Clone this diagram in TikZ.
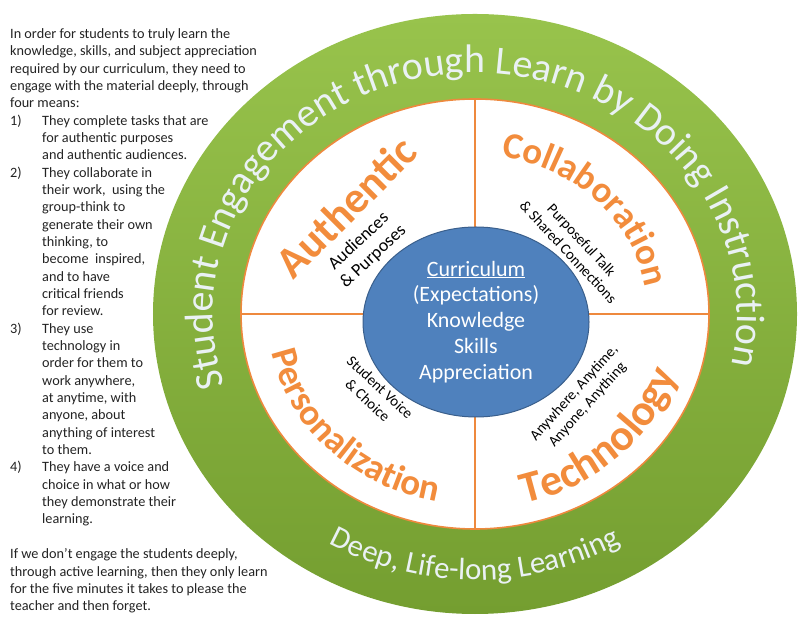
\documentclass[tikz,border=0pt]{standalone}
\usepackage{fontspec}
\setmainfont{Carlito}
\usepackage{xcolor}
\usepackage{tikz}
\usetikzlibrary{calc}
\usetikzlibrary{shapes.geometric}
\usetikzlibrary{decorations.text}
\definecolor{ringgreen}{RGB}{152,195,76}
\definecolor{ringdark}{RGB}{116,158,48}
\definecolor{edgeorange}{RGB}{238,137,62}
\definecolor{wordorange}{RGB}{242,140,60}
\definecolor{coreblue}{RGB}{79,129,189}
\definecolor{coreedge}{RGB}{58,95,140}
\definecolor{ringtext}{RGB}{234,241,244}
\definecolor{introgray}{RGB}{35,35,35}
\def\ringfont{\fontsize{40}{41}\selectfont}
\def\deepfont{\fontsize{31}{32}\selectfont}
\def\wordfont#1{\fontsize{#1}{#1}\selectfont\bfseries}
\def\listindent{\hspace*{32bp}}
\tikzset{
	arctext/.style n args={3}{decorate,decoration={text along path,text align=center,text color=#1,text={|#2|#3}}},
	subtxt/.style={font=\fontsize{15}{18}\selectfont,align=center,inner sep=0pt},
	bigword/.style={text=wordorange,font=\wordfont{44},inner sep=0pt},
}

\begin{document}
\begin{tikzpicture}[x=1bp,y=1bp]
	\useasboundingbox (0,0) rectangle (798,618);
	\node[anchor=north west,align=left,inner sep=0pt,text=introgray,font=\fontsize{14.3}{17.4}\selectfont] (intro) at (10,589.5) {In order for students to truly learn the\\
		knowledge, skills, and subject appreciation\\
		required by our curriculum, they need to\\
		engage with the material deeply, through\\
		four means:\\
		\makebox[32bp][l]{1)}They complete tasks that are\\
		\listindent for authentic purposes\\
		\listindent and authentic audiences.\\
		\makebox[32bp][l]{2)}They collaborate in\\
		\listindent their work,\ \ using the\\
		\listindent group-think to\\
		\listindent generate their own\\
		\listindent thinking, to\\
		\listindent become\ \ inspired,\\
		\listindent and to have\\
		\listindent critical friends\\
		\listindent for review.\\
		\makebox[32bp][l]{3)}They use\\
		\listindent technology in\\
		\listindent order for them to\\
		\listindent work anywhere,\\
		\listindent at anytime, with\\
		\listindent anyone, about\\
		\listindent anything of interest\\
		\listindent to them.\\
		\makebox[32bp][l]{4)}They have a voice and\\
		\listindent choice in what or how\\
		\listindent they demonstrate their\\
		\listindent learning.\\[17.4bp]
		If we don’t engage the students deeply,\\
		through active learning, then they only learn\\
		for the five minutes it takes to please the\\
		teacher and then forget.};
	\coordinate (c) at (475,304);
	\node[ellipse,minimum width=644bp,minimum height=600bp,inner sep=0pt,top color=ringgreen,bottom color=ringdark] (ring) at (c) {};
	\node[ellipse,minimum width=468bp,minimum height=430bp,inner sep=0pt,fill=white,draw=edgeorange,line width=1.6bp] (disc) at (c) {};
	\draw[edgeorange,line width=1.6bp] (disc.north)--(disc.south);
	\draw[edgeorange,line width=1.6bp] (disc.west)--(disc.east);
	\node[ellipse,minimum width=226bp,minimum height=190bp,inner sep=0pt,fill=coreblue,draw=coreedge,line width=1bp,text=white,align=center,font=\fontsize{22}{26}\selectfont] (core) at (476,296) {\underline{Curriculum}\\(Expectations)\\Knowledge\\Skills\\Appreciation};
	\path[arctext={ringtext}{\ringfont}{Student Engagement through Learn by Doing Instruction}] ($(c)+(207.5:262 and 241)$) arc[start angle=207.5,end angle=-22.5,x radius=262,y radius=241];
	\path[arctext={ringtext}{\deepfont}{Deep, Life-long Learning}] ($(c)+(210:289 and 266)$) arc[start angle=210,end angle=330,x radius=289,y radius=266];
	\node[bigword,rotate=45] (authentic) at (346,411) {Authentic};
	\path[arctext={wordorange}{\wordfont{37}}{Collaboration}] ($(c)+(104.5:173 and 159)$) arc[start angle=104.5,end angle=-15.5,x radius=173,y radius=159];
	\path[arctext={wordorange}{\wordfont{37}}{Personalization}] ($(c)+(164.5:208 and 191)$) arc[start angle=164.5,end angle=284.5,x radius=208,y radius=191];
	\path[arctext={wordorange}{\wordfont{44}}{Technology}] ($(c)+(254:212 and 195)$) arc[start angle=254,end angle=374,x radius=212,y radius=195];
	\node[subtxt,font=\fontsize{18}{21}\selectfont,rotate=43] (audiences) at (366,369) {Audiences\\\& Purposes};
	\node[subtxt,rotate=-47] (talk) at (575,372) {Purposeful Talk\\\& Shared Connections};
	\node[subtxt,rotate=-43] (voice) at (374,224) {Student Voice\\\& Choice};
	\node[subtxt,rotate=48] (anywhere) at (581,219) {Anywhere, Anytime,\\Anyone, Anything};
\end{tikzpicture}
\end{document}
